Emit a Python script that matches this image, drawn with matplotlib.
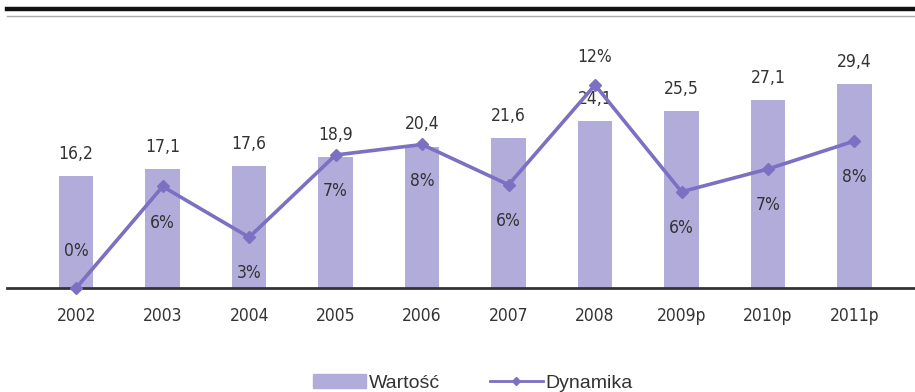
import matplotlib
matplotlib.use("Agg")
import matplotlib.pyplot as plt
from matplotlib.lines import Line2D
from matplotlib.patches import Patch

years = ["2002", "2003", "2004", "2005", "2006", "2007", "2008", "2009p", "2010p", "2011p"]
values = [16.2, 17.1, 17.6, 18.9, 20.4, 21.6, 24.1, 25.5, 27.1, 29.4]
value_labels = ["16,2", "17,1", "17,6", "18,9", "20,4", "21,6", "24,1", "25,5", "27,1", "29,4"]
dynamics = [0.0, 5.8, 2.9, 7.6, 8.2, 5.9, 11.6, 5.5, 6.8, 8.4]
dyn_labels = ["0%", "6%", "3%", "7%", "8%", "6%", "12%", "6%", "7%", "8%"]

BAR_C = "#b2acdb"
LINE_C = "#7b70c2"
TXT_C = "#333333"
FONT = ["DejaVu Sans"]
STRETCH = "condensed"

W, H = 915, 392
fig = plt.figure(figsize=(W / 100, H / 100), dpi=100)

ax = fig.add_axes([7 / W, (H - 288) / H, (W - 7) / W, (288 - 40) / H])
ax2 = ax.twinx()

x = list(range(len(years)))
ax.bar(x, values, width=0.4, color=BAR_C, zorder=1)
ax.set_xlim(-0.8, 9.7)
ax.set_ylim(0, 248 / 6.93)
ax2.set_ylim(0, 248 / 17.5)

ax2.plot(x, dynamics, color=LINE_C, lw=2.6, marker="D", ms=6, mfc=LINE_C, mec=LINE_C,
         zorder=3, clip_on=False)

for s in ["top", "left", "right"]:
    ax.spines[s].set_visible(False)
    ax2.spines[s].set_visible(False)
ax.spines["bottom"].set_color("#333333")
ax.spines["bottom"].set_linewidth(2)
ax2.spines["bottom"].set_visible(False)
ax.set_yticks([])
ax2.set_yticks([])
ax.set_xticks(x)
ax.set_xticklabels(years, fontsize=12.5, color=TXT_C, family=FONT, fontstretch=STRETCH)
ax.tick_params(axis="x", length=0, pad=14)

for i, (v, lab) in enumerate(zip(values, value_labels)):
    ax.annotate(lab, (i, v), xytext=(0, 16), textcoords="offset points",
                ha="center", va="center", fontsize=12.5, color=TXT_C, family=FONT,
                fontstretch=STRETCH, zorder=4)

for i, (d, lab) in enumerate(zip(dynamics, dyn_labels)):
    if i == 0:
        off = 27
    elif d == max(dynamics):
        off = 20
    else:
        off = -26
    ax2.annotate(lab, (i, d), xytext=(0, off), textcoords="offset points",
                 ha="center", va="center", fontsize=12.5, color=TXT_C, family=FONT,
                 fontstretch=STRETCH, zorder=4)

fig.add_artist(Line2D([7 / W, 1], [(H - 9) / H] * 2, color="#111111", lw=3.2))
fig.add_artist(Line2D([7 / W, 1], [(H - 16) / H] * 2, color="#aaaaaa", lw=1.0))

handles = [Patch(color=BAR_C, label="Wartość"),
           Line2D([], [], color=LINE_C, lw=2, marker="D", ms=4, label="Dynamika")]
fig.legend(handles=handles, loc="center", bbox_to_anchor=(473 / W, 9 / H), ncol=2,
           frameon=False, prop={"family": ["Liberation Sans", "DejaVu Sans"], "size": 14},
           handlelength=2.7, handleheight=0.75, handletextpad=0.15, columnspacing=2.6,
           labelcolor=TXT_C)

fig.savefig("out.png", dpi=100, facecolor="white")
